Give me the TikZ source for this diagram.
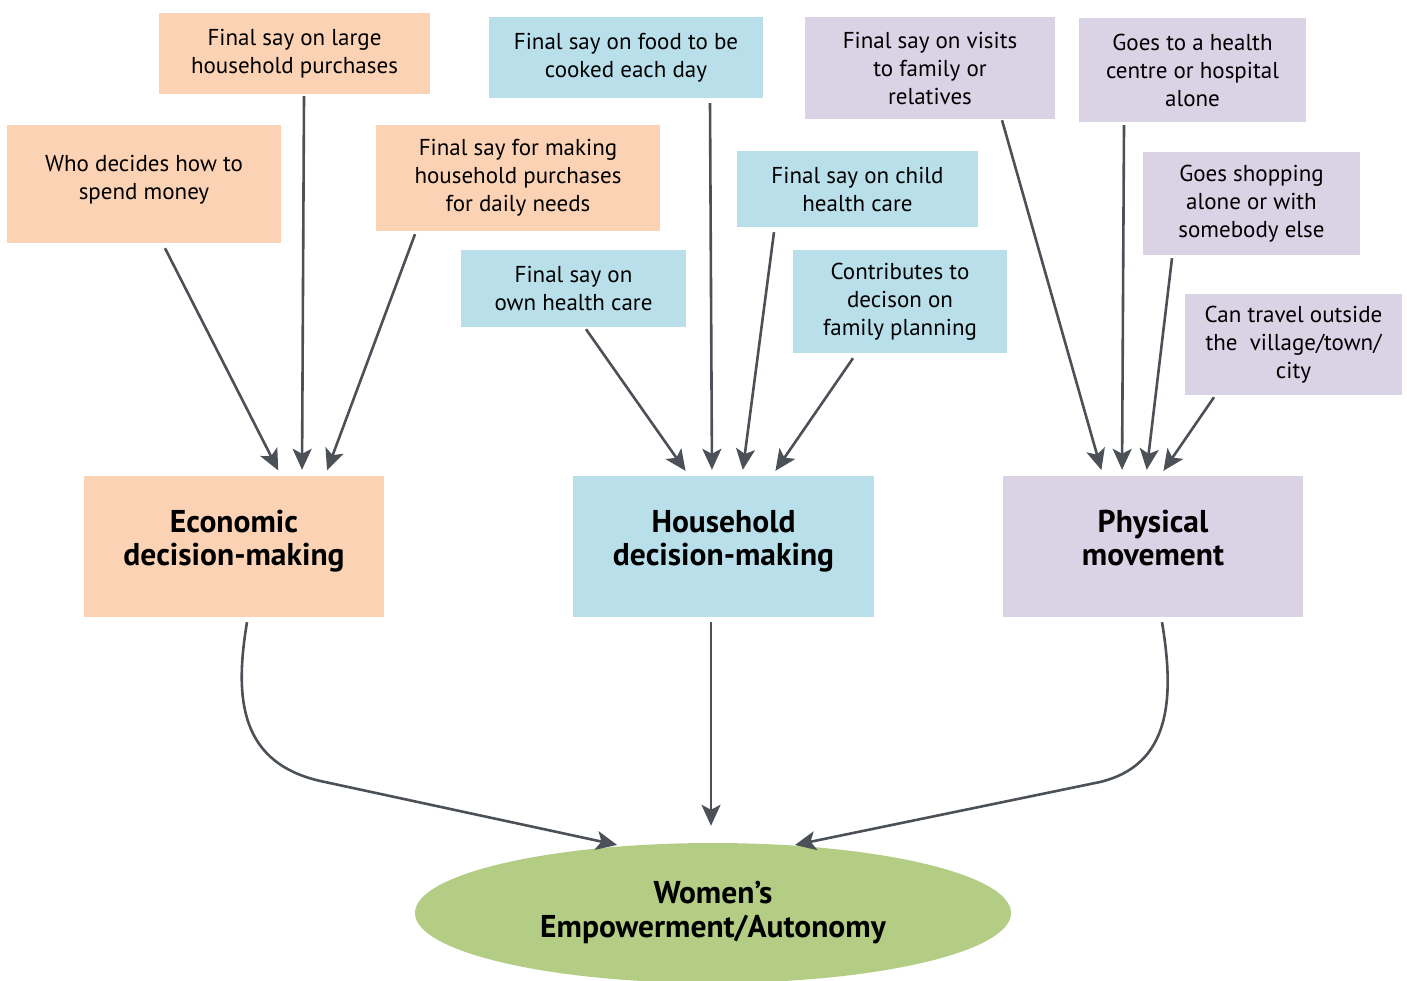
\documentclass[tikz,border=0pt]{standalone}
\usepackage{fontspec}
\setmainfont{PT Sans}
\usetikzlibrary{arrows.meta,calc,shapes.geometric}
\definecolor{peach}{HTML}{FBD3B4}
\definecolor{lblue}{HTML}{B9E0EA}
\definecolor{lav}{HTML}{DAD3E6}
\definecolor{lgreen}{HTML}{B3CD85}
\definecolor{arr}{HTML}{4B5157}
\tikzset{
  x=1pt,y=-1pt,
  box/.style={rectangle,inner sep=0pt,align=center,font=\fontsize{23}{28}\selectfont},
  bigbox/.style={rectangle,inner sep=0pt,align=center,font=\fontsize{31.5}{33}\selectfont\bfseries,minimum width=300pt,minimum height=141pt,text depth=18pt},
  con/.style={draw=arr,line width=2.6pt,-{Stealth[length=21pt,width=19pt,inset=5pt]},shorten >=6pt},
}
\begin{document}
\begin{tikzpicture}
\useasboundingbox (0,0) rectangle (1407,981);
% Economic
\node[box,fill=peach,minimum width=271pt,minimum height=81pt] (A1) at (294.5,53.5) {Final say on large\\household purchases};
\node[box,fill=peach,minimum width=274pt,minimum height=118pt,text depth=14pt] (A2) at (144,184) {Who decides how to\\spend money};
\node[box,fill=peach,minimum width=284pt,minimum height=106pt] (A3) at (518,178) {Final say for making\\household purchases\\for daily needs};
\node[bigbox,fill=peach] (E) at (234,546.5) {Economic\\decision-making};
% Household
\node[box,fill=lblue,minimum width=274pt,minimum height=81pt] (B1) at (626,57.5) {Final say on food to be\\cooked each day};
\node[box,fill=lblue,minimum width=241pt,minimum height=76pt] (B2) at (857.5,189) {Final say on child\\health care};
\node[box,fill=lblue,minimum width=225pt,minimum height=77pt] (B3) at (573.5,288.5) {Final say on\\own health care};
\node[box,fill=lblue,minimum width=214pt,minimum height=103pt] (B4) at (900,301.5) {Contributes to\\decison on\\family planning};
\node[bigbox,fill=lblue,minimum width=301pt] (H) at (723.5,546.5) {Household\\decision-making};
% Physical
\node[box,fill=lav,minimum width=250pt,minimum height=102pt] (C1) at (930,68) {Final say on visits\\to family or\\relatives};
\node[box,fill=lav,minimum width=227pt,minimum height=104pt] (C2) at (1192.5,70) {Goes to a health\\centre or hospital\\alone};
\node[box,fill=lav,minimum width=217pt,minimum height=103pt] (C3) at (1251.5,203.5) {Goes shopping\\alone or with\\somebody else};
\node[box,fill=lav,minimum width=217pt,minimum height=101pt] (C4) at (1293.5,344.5) {Can travel outside\\the\ \ village/town/\\city};
\node[bigbox,fill=lav] (P) at (1153,546.5) {Physical\\movement};
% Outcome
\node[ellipse,fill=lgreen,inner sep=0pt,minimum width=596pt,minimum height=140pt,align=center,font=\fontsize{31.5}{34}\selectfont\bfseries,text depth=8pt] (W) at (713,913) {Women’s\\Empowerment/Autonomy};
% connectors
\draw[con] ([xshift=21pt,yshift=-5pt]A2.south) -- ([xshift=47pt]E.north);
\draw[con] ([xshift=9.5pt,yshift=-2pt]A1.south) -- ([xshift=68pt]E.north);
\draw[con] ([xshift=-103pt,yshift=-3pt]A3.south) -- ([xshift=91pt]E.north);
\draw[con] ([xshift=12.5pt,yshift=-2pt]B3.south) -- ([xshift=-34.5pt]H.north);
\draw[con] ([xshift=84pt,yshift=-5pt]B1.south) -- ([xshift=-11.5pt]H.north);
\draw[con] ([xshift=-83.5pt,yshift=-5pt]B2.south) -- ([xshift=18.5pt]H.north);
\draw[con] ([xshift=-47pt,yshift=-5pt]B4.south) -- ([xshift=48.5pt]H.north);
\draw[con] ([xshift=72pt,yshift=-1pt]C1.south) -- ([xshift=-50pt]P.north);
\draw[con] ([xshift=-68.5pt,yshift=-3pt]C2.south) -- ([xshift=-31pt]P.north);
\draw[con] ([xshift=-79.5pt,yshift=-3pt]C3.south) -- ([xshift=-7pt]P.north);
\draw[con] ([xshift=-79.5pt,yshift=-2pt]C4.south) -- ([xshift=7pt]P.north);
\draw[con,shorten >=5pt] ([xshift=13pt,yshift=-5pt]E.south) .. controls (234,700) and (240,765) .. (325,782) -- ($(W.center)+(-91,-67)$);
\draw[con,shorten >=17pt] ([xshift=-12.5pt,yshift=-5pt]H.south) -- ([xshift=-2pt]W.north);
\draw[con,shorten >=5pt] ([xshift=9pt,yshift=-5pt]P.south) .. controls (1175,700) and (1170,765) .. (1100,782) -- ($(W.center)+(77,-67)$);
\end{tikzpicture}
\end{document}
